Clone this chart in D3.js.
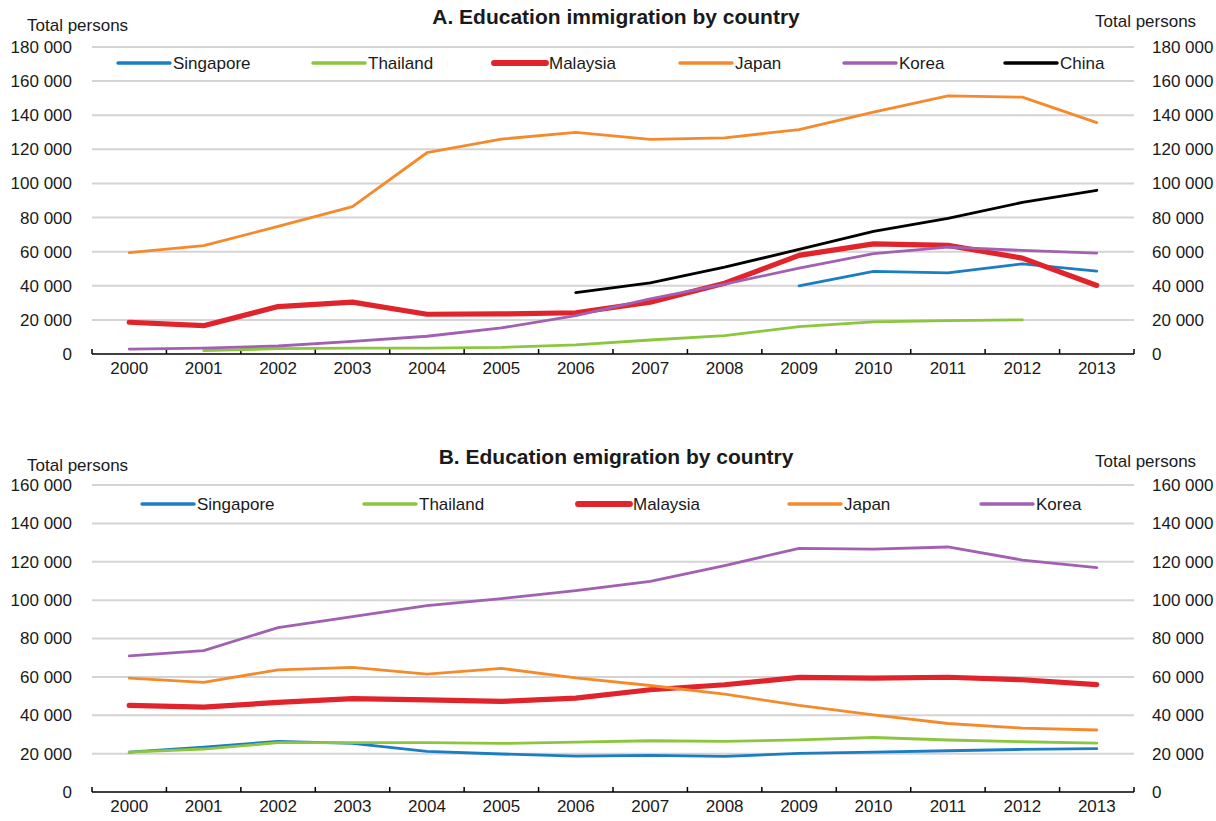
<!DOCTYPE html>
<html>
<head>
<meta charset="utf-8">
<script src="https://cdn.jsdelivr.net/npm/d3@7"></script>
<style>
  html, body { margin: 0; padding: 0; background: #fff; }
  svg { display: block; font-family: "Liberation Sans", Arial, sans-serif; }
</style>
</head>
<body>
<svg id="chart" width="1216" height="821"></svg>
<script>
// ---------- DATA ----------
const years = [2000,2001,2002,2003,2004,2005,2006,2007,2008,2009,2010,2011,2012,2013];

// Panel A: education immigration (null = no data)
const immSingapore = [null,null,null,null,null,null,null,null,null,40000,48400,47600,52900,48600];
const immThailand  = [null,2000,3100,3500,3500,3900,5300,8200,10800,16000,18800,19600,20000,null];
const immMalaysia  = [18600,16600,27800,30400,23300,23500,24200,30400,41500,57800,64600,63700,56200,40200];
const immJapan     = [59400,63500,74800,86400,118000,126000,130000,125800,126700,131600,141800,151400,150600,135700];
const immKorea     = [2900,3500,4700,7400,10400,15300,22500,32300,41000,50300,58800,62700,60700,59200];
const immChina     = [null,null,null,null,null,null,36000,41700,50900,61300,71900,79500,88900,96000];

// Panel B: education emigration
const emiSingapore = [20800,23400,26400,25300,21200,19800,18700,19100,18600,20100,20800,21500,22200,22600];
const emiThailand  = [20800,22400,25700,25700,25700,25300,26000,26700,26400,27200,28400,27100,26200,25500];
const emiMalaysia  = [45100,44200,46700,48700,48000,47200,48900,53300,55900,59700,59300,59800,58500,56000];
const emiJapan     = [59300,57100,63700,64900,61400,64400,59500,55500,51000,45100,40200,35700,33300,32300];
const emiKorea     = [70900,73700,85700,91400,97100,100800,104900,109800,118000,127000,126600,127700,120900,116900];

const ticksA = [0,20000,40000,60000,80000,100000,120000,140000,160000,180000];
const ticksB = [0,20000,40000,60000,80000,100000,120000,140000,160000];

const titleA = "A. Education immigration by country";
const titleB = "B. Education emigration by country";
const unitLabel = "Total persons";

// ---------- STYLE ----------
const colors = {
  Singapore: "#1b7dc2",
  Thailand: "#8cc63e",
  Malaysia: "#e1232b",
  Japan: "#f58a2c",
  Korea: "#a260b2",
  China: "#000000"
};
const widths = { Singapore: 2.8, Thailand: 2.8, Malaysia: 5.2, Japan: 2.8, Korea: 2.8, China: 2.8 };

const seriesA = [
  { name: "Singapore", values: immSingapore },
  { name: "Thailand", values: immThailand },
  { name: "Malaysia", values: immMalaysia },
  { name: "Japan", values: immJapan },
  { name: "Korea", values: immKorea },
  { name: "China", values: immChina }
];
const seriesB = [
  { name: "Singapore", values: emiSingapore },
  { name: "Thailand", values: emiThailand },
  { name: "Malaysia", values: emiMalaysia },
  { name: "Japan", values: emiJapan },
  { name: "Korea", values: emiKorea }
];

const svg = d3.select("#chart");
const fmt = v => d3.format(",")(v).replace(/,/g, " ");
const textColor = "#1a1a1a";
const FS = 17;

const left = 92, right = 1134;

function panel(cfg) {
  const g = svg.append("g");
  const x = d3.scaleBand().domain(years).range([left, right]).paddingInner(0).paddingOuter(0);
  const y = d3.scaleLinear().domain([0, cfg.max]).range([cfg.y0, cfg.yTop]);

  // gridlines
  g.append("g").selectAll("line").data(cfg.ticks.filter(t => t > 0)).join("line")
    .attr("x1", left).attr("x2", right)
    .attr("y1", d => y(d)).attr("y2", d => y(d))
    .attr("stroke", "#d4d4d4").attr("stroke-width", 2);

  // left axis labels
  const la = g.append("g").attr("transform", `translate(${left},0)`)
    .call(d3.axisLeft(y).tickValues(cfg.ticks).tickSize(0).tickPadding(20).tickFormat(fmt));
  la.select(".domain").remove();
  la.selectAll("text").attr("font-size", FS).attr("fill", textColor).attr("font-family", "Liberation Sans, Arial, sans-serif");

  // right axis labels
  const ra = g.append("g").attr("transform", `translate(${right},0)`)
    .call(d3.axisRight(y).tickValues(cfg.ticks).tickSize(0).tickPadding(18).tickFormat(fmt));
  ra.select(".domain").remove();
  ra.selectAll("text").attr("font-size", FS).attr("fill", textColor).attr("font-family", "Liberation Sans, Arial, sans-serif");

  // x axis labels
  const xa = g.append("g").attr("transform", `translate(0,${cfg.y0})`)
    .call(d3.axisBottom(x).tickSize(0).tickPadding(8));
  xa.select(".domain").remove();
  xa.selectAll("text").attr("font-size", FS).attr("fill", textColor).attr("font-family", "Liberation Sans, Arial, sans-serif");

  // x axis line and inward ticks at band boundaries
  g.append("line").attr("x1", left).attr("x2", right).attr("y1", cfg.y0).attr("y2", cfg.y0)
    .attr("stroke", "#000").attr("stroke-width", 1.5);
  const bounds = years.map(d => x(d)).concat([x(years[years.length - 1]) + x.bandwidth()]);
  g.append("g").selectAll("line").data(bounds).join("line")
    .attr("x1", d => d).attr("x2", d => d)
    .attr("y1", cfg.y0).attr("y2", cfg.y0 - 5)
    .attr("stroke", "#000").attr("stroke-width", 1.5);

  // lines
  const line = d3.line()
    .defined(d => d.v != null)
    .x(d => x(d.year) + x.bandwidth() / 2)
    .y(d => y(d.v));
  cfg.series.forEach(s => {
    const pts = years.map((yr, i) => ({ year: yr, v: s.values[i] }));
    g.append("path").datum(pts)
      .attr("d", line)
      .attr("fill", "none")
      .attr("stroke", colors[s.name])
      .attr("stroke-width", widths[s.name])
      .attr("stroke-linejoin", "round")
      .attr("stroke-linecap", "round");
  });

  // legend
  const lg = g.append("g");
  cfg.series.forEach((s, i) => {
    const lx = cfg.legendX[i];
    lg.append("line").attr("x1", lx).attr("x2", lx + 52)
      .attr("y1", cfg.legendY).attr("y2", cfg.legendY)
      .attr("stroke", colors[s.name]).attr("stroke-width", widths[s.name] + 0.6)
      .attr("stroke-linecap", "round");
    lg.append("text").attr("x", lx + 55).attr("y", cfg.legendY).attr("dy", "0.35em")
      .attr("font-size", FS).attr("fill", textColor).text(s.name);
  });

  // titles
  g.append("text").attr("x", 616).attr("y", cfg.titleY).attr("text-anchor", "middle")
    .attr("font-size", 21).attr("font-weight", "bold").attr("fill", textColor).text(cfg.title);
  g.append("text").attr("x", 27).attr("y", cfg.unitLY).attr("font-size", FS).attr("fill", textColor).text(unitLabel);
  g.append("text").attr("x", 1095).attr("y", cfg.unitRY).attr("font-size", FS).attr("fill", textColor).text(unitLabel);
}

panel({
  series: seriesA, ticks: ticksA, max: 180000, y0: 354, yTop: 47,
  legendX: [118, 313, 494, 680, 844, 1005], legendY: 63,
  title: titleA, titleY: 24, unitLY: 31, unitRY: 27
});

panel({
  series: seriesB, ticks: ticksB, max: 160000, y0: 792, yTop: 485,
  legendX: [142, 364, 578, 789, 981], legendY: 504,
  title: titleB, titleY: 464, unitLY: 471, unitRY: 467
});
</script>
</body>
</html>
